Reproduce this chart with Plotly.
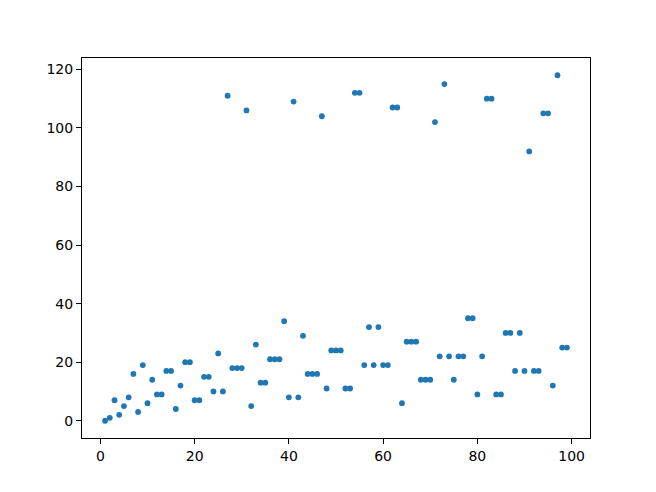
import plotly.graph_objects as go

# Collatz-style stopping times
n_values = list(range(1, 100))
steps = [0, 1, 7, 2, 5, 8, 16, 3, 19, 6,
         14, 9, 9, 17, 17, 4, 12, 20, 20, 7,
         7, 15, 15, 10, 23, 10, 111, 18, 18, 18,
         106, 5, 26, 13, 13, 21, 21, 21, 34, 8,
         109, 8, 29, 16, 16, 16, 104, 11, 24, 24,
         24, 11, 11, 112, 112, 19, 32, 19, 32, 19,
         19, 107, 107, 6, 27, 27, 27, 14, 14, 14,
         102, 22, 115, 22, 14, 22, 22, 35, 35, 9,
         22, 110, 110, 9, 9, 30, 30, 17, 30, 17,
         92, 17, 17, 105, 105, 12, 118, 25, 25]

x_ticks = [0, 20, 40, 60, 80, 100]
y_ticks = [0, 20, 40, 60, 80, 100, 120]

fig = go.Figure(go.Scatter(
    x=n_values, y=steps, mode="markers",
    marker=dict(color="#1f77b4", size=5.8, line=dict(width=0)),
))

axis_style = dict(
    showgrid=False, zeroline=False, showline=True, mirror=True,
    linecolor="black", linewidth=1, ticks="outside", ticklen=5,
    tickcolor="black", tickfont=dict(family="DejaVu Sans", size=14, color="black"),
)
fig.update_xaxes(range=[-3.9, 103.9], tickvals=x_ticks, **axis_style)
fig.update_yaxes(range=[-5.9, 123.9], tickvals=y_ticks, **axis_style)

# the page adds an 8px body margin, so margins are shifted to compensate
fig.update_layout(
    width=656, height=492,
    margin=dict(l=74, r=74, t=50, b=62, autoexpand=False),
    plot_bgcolor="white", paper_bgcolor="white",
    showlegend=False,
)

fig.write_html("out.html")
